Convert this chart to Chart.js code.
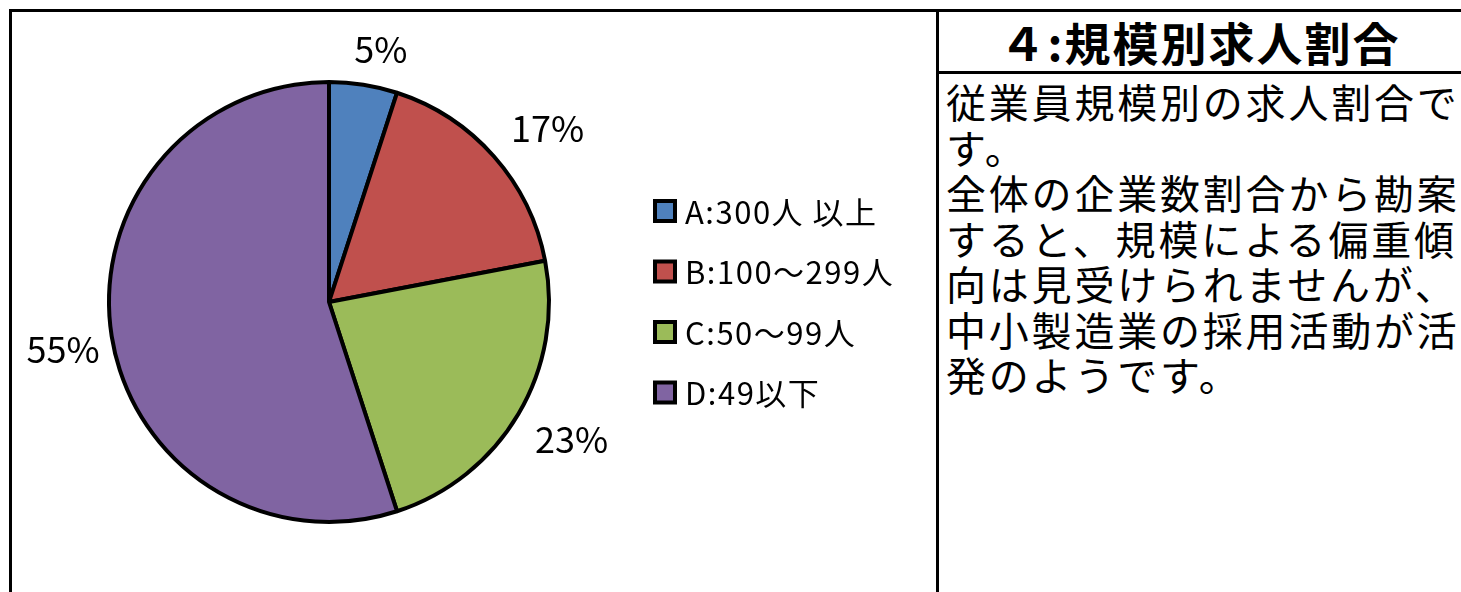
<!DOCTYPE html>
<html lang="ja">
<head>
<meta charset="utf-8">
<script src="https://cdn.jsdelivr.net/npm/chart.js@4"></script>
<style>
  html, body { margin: 0; padding: 0; background: #fff; }
  body { width: 1461px; height: 592px; position: relative; overflow: hidden;
         font-family: "Noto Sans CJK JP", "Noto Sans", sans-serif; }
  #frame { position: absolute; left: 9px; top: 9px; width: 1470px; height: 600px;
           border-left: 3px solid #000; border-top: 3px solid #000; }
  #divider { position: absolute; left: 936px; top: 9px; width: 3px; height: 600px; background: #000; }
  #rule { position: absolute; left: 936px; top: 71px; width: 530px; height: 3px; background: #000; }
  #title { position: absolute; left: 939px; width: 522px; top: 12px; height: 59px;
           text-align: center; font-weight: bold; font-size: 46px; line-height: 59px; letter-spacing: 2px; }
  #note { position: absolute; left: 946px; top: 79px; font-size: 40px; line-height: 45.5px;
          white-space: pre; letter-spacing: 2.8px; }
  #wrap { position: absolute; left: 0; top: 0; width: 935px; height: 592px; }
</style>
</head>
<body>
<div id="frame"></div>
<div id="divider"></div>
<div id="rule"></div>
<div id="title">４:規模別求人割合</div>
<div id="note">従業員規模別の求人割合で
す。
全体の企業数割合から勘案
すると、規模による偏重傾
向は見受けられませんが、
中小製造業の採用活動が活
発のようです。</div>
<div id="wrap"><canvas id="piechart"></canvas></div>
<script>
const categories = ['A:300人 以上', 'B:100～299人', 'C:50～99人', 'D:49以下'];
const shares = [5, 17, 23, 55];
const shareLabels = ['5%', '17%', '23%', '55%'];
const sliceColors = ['#4F81BD', '#C0504D', '#9BBB59', '#8064A2'];

// label placement tweaks, Excel "best fit" style (degrees, px beyond the rim)
const labelNudge = [2.6, 3, -1, -1];
const labelGap = [38, 59, 59, 50];

const sliceLabels = {
    id: 'sliceLabels',
    afterDatasetsDraw(chart) {
        const c = chart.ctx;
        const arcs = chart.getDatasetMeta(0).data;
        c.save();
        c.fillStyle = '#000';
        c.font = '36px "Noto Sans CJK JP"';
        c.textAlign = 'center';
        c.textBaseline = 'middle';
        arcs.forEach(function(arc, i) {
            const mid = (arc.startAngle + arc.endAngle) / 2 + labelNudge[i] * Math.PI / 180;
            const r = arc.outerRadius + labelGap[i];
            c.fillText(shareLabels[i], arc.x + Math.cos(mid) * r, arc.y + Math.sin(mid) * r);
        });
        c.restore();
    }
};

const sideLegend = {
    id: 'sideLegend',
    afterDraw(chart) {
        const c = chart.ctx;
        c.save();
        c.font = '31px "Noto Sans CJK JP"';
        c.letterSpacing = '1.5px';
        c.textBaseline = 'middle';
        c.textAlign = 'left';
        categories.forEach(function(name, i) {
            const y = 211 + i * 60.5;
            c.fillStyle = '#000';
            c.fillRect(653, y - 12, 24, 24);
            c.fillStyle = sliceColors[i];
            c.fillRect(657, y - 8, 16, 16);
            c.fillStyle = '#000';
            c.fillText(name, 685, y + 1);
        });
        c.restore();
    }
};

document.addEventListener("DOMContentLoaded", function() {
    const ctx = document.getElementById('piechart');

    new Chart(ctx, {
        type: 'pie',
        data: {
            labels: categories,
            datasets: [{
                data: shares,
                backgroundColor: sliceColors,
                borderColor: '#000',
                borderWidth: 4
            }]
        },
        options: {
            responsive: true,
            maintainAspectRatio: false,
            animation: false,
            layout: { padding: { left: 107, right: 384, top: 80, bottom: 68 } },
            plugins: {
                legend: { display: false },
                tooltip: { enabled: false }
            }
        },
        plugins: [sliceLabels, sideLegend]
    });
});
</script>
</body>
</html>
